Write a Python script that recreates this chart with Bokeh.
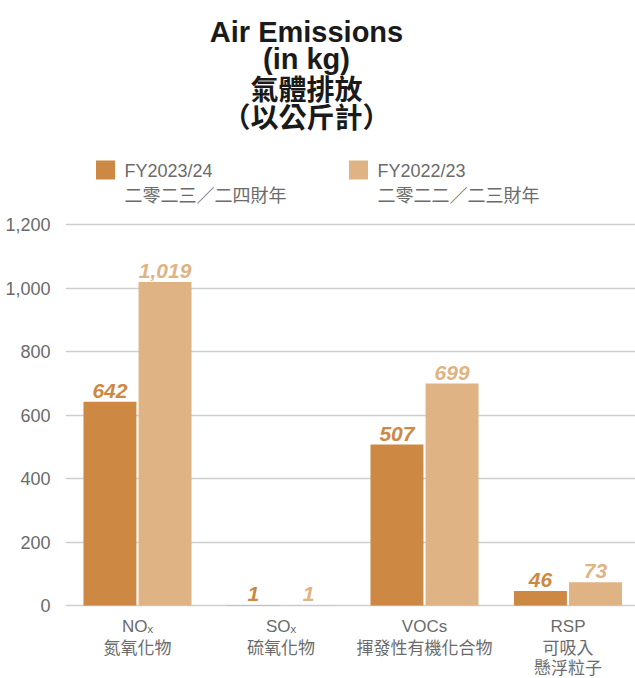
from bokeh.plotting import figure
from bokeh.models import Range1d, FixedTicker, NumeralTickFormatter, ColumnDataSource
from bokeh.core.properties import value
from bokeh.embed import file_html
from bokeh.resources import INLINE

# ---- data ----
cat_en = ["NOₓ", "SOₓ", "VOCs", "RSP"]
cat_cn = [["氮氧化物"], ["硫氧化物"], ["揮發性有機化合物"], ["可吸入", "懸浮粒子"]]
fy2324 = [642, 1, 507, 46]
fy2223 = [1019, 1, 699, 73]
series_names = ["FY2023/24", "FY2022/23"]
series_cn = ["二零二三／二四財年", "二零二二／二三財年"]
y_ticks = [0, 200, 400, 600, 800, 1000, 1200]
title_lines = ["Air Emissions", "(in kg)", "氣體排放", "（以公斤計）"]

C_DARK = "#CD8944"
C_LIGHT = "#DFB384"
GREY = "#6b6b6b"

# page geometry helpers (figure origin at page (0,0); frame page x 65..635, y 0..678)
PX_PER_UNIT_Y = 381 / 1200.0
X0_PAGE, X_STEP = 137.0, 143.5
def dy(page_y):
    return (605 - page_y) / PX_PER_UNIT_Y
def dx(page_x):
    return (page_x - X0_PAGE) / X_STEP

W, H = 635, 678
p = figure(width=W, height=H, output_backend="svg", toolbar_location=None,
           x_range=Range1d(dx(65), dx(635)), y_range=Range1d(dy(678), dy(0)),
           min_border_left=65, min_border_right=0, min_border_top=0, min_border_bottom=0)
p.outline_line_color = None
p.background_fill_color = "white"
p.border_fill_color = "white"

xs = list(range(len(cat_en)))
off = 0.192
bw = 0.369
src_a = ColumnDataSource(dict(x=[x - off for x in xs], top=fy2324, lab=[f"{v:,}" for v in fy2324]))
src_b = ColumnDataSource(dict(x=[x + off for x in xs], top=fy2223, lab=[f"{v:,}" for v in fy2223]))
p.vbar(x="x", top="top", width=bw, bottom=0, source=src_a, fill_color=C_DARK, line_color=None)
p.vbar(x="x", top="top", width=bw, bottom=0, source=src_b, fill_color=C_LIGHT, line_color=None)
p.text(x="x", y="top", text="lab", source=src_a, text_align="center", text_baseline="bottom",
       y_offset=-4, text_color=C_DARK, text_font=value("Liberation Sans"), text_font_size="21px",
       text_font_style="bold italic")
p.text(x="x", y="top", text="lab", source=src_b, text_align="center", text_baseline="bottom",
       y_offset=-4, text_color=C_LIGHT, text_font=value("Liberation Sans"), text_font_size="21px",
       text_font_style="bold italic")

# axes
p.xgrid.grid_line_color = None
p.ygrid.grid_line_color = "#cfcfcf"
p.ygrid.grid_line_width = 1.5
p.yaxis.ticker = FixedTicker(ticks=y_ticks)
p.ygrid.ticker = FixedTicker(ticks=y_ticks)
p.yaxis.formatter = NumeralTickFormatter(format="0,0")
p.yaxis.axis_line_color = None
p.yaxis.major_tick_line_color = None
p.yaxis.minor_tick_line_color = None
p.yaxis.major_label_standoff = 9
p.yaxis.major_label_text_font = "Liberation Sans"
p.yaxis.major_label_text_font_size = "18px"
p.yaxis.major_label_text_color = GREY
p.xaxis.visible = False

# category labels (below the baseline)
lab_x = [dx(137 + 143.5 * i) for i in xs]
p.text(x=lab_x, y=[dy(626)] * len(xs), text=cat_en, text_align="center", text_baseline="middle",
       text_font=value("Liberation Sans"), text_font_size="17px", text_color=GREY)
for i, lines in enumerate(cat_cn):
    for j, ln in enumerate(lines):
        p.text(x=[lab_x[i]], y=[dy(646 + 20 * j)], text=[ln], text_align="center",
               text_baseline="middle", text_font=value("Noto Sans CJK TC"),
               text_font_size="17px", text_color=GREY)

# title
title_y = [31, 58, 87, 115]
for i, (t, yy) in enumerate(zip(title_lines, title_y)):
    font = "Liberation Sans" if i < 2 else "Noto Sans CJK TC"
    size = "29px" if i < 2 else "28px"
    p.text(x=[dx(306)], y=[dy(yy)], text=[t], text_align="center", text_baseline="middle",
           text_font=value(font), text_font_size=size, text_font_style="bold", text_color="#1a1a1a")

# legend
leg_x = [95, 348]
for sx, col, nm, cn in zip(leg_x, [C_DARK, C_LIGHT], series_names, series_cn):
    p.rect(x=[dx(sx + 10)], y=[dy(169.5)], width=19, height=19, width_units="screen",
           height_units="screen", fill_color=col, line_color=None)
    p.text(x=[dx(sx + 29)], y=[dy(170)], text=[nm], text_align="left", text_baseline="middle",
           text_font=value("Liberation Sans"), text_font_size="18px", text_color=GREY)
    p.text(x=[dx(sx + 29)], y=[dy(193)], text=[cn], text_align="left", text_baseline="middle",
           text_font=value("Noto Sans CJK TC"), text_font_size="18px", text_color=GREY)

open("out.html", "w").write(file_html(p, INLINE))
